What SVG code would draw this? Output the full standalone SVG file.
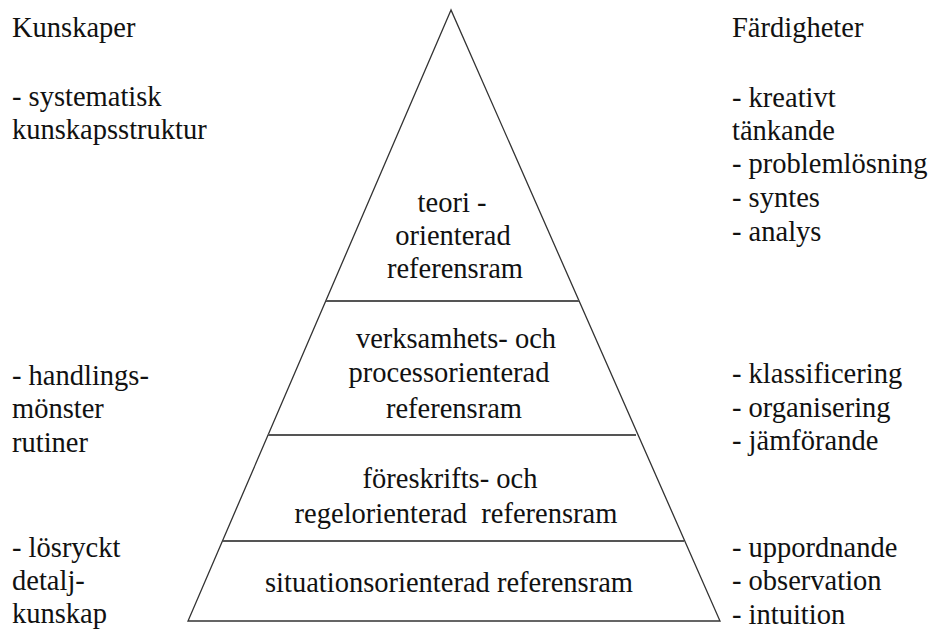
<svg xmlns="http://www.w3.org/2000/svg" width="931" height="632" viewBox="0 0 931 632">
  <style>
    text { font-family: "Liberation Serif", "DejaVu Serif", serif; font-size: 28.5px; fill: #111; }
    .mid { text-anchor: middle; }
    .pre { white-space: pre; }
    .edge { stroke: #333; stroke-width: 1.3; fill: none; }
    .band { stroke: #555; stroke-width: 1.8; fill: none; }
  </style>
  <rect width="931" height="632" fill="#fff"/>

  <!-- pyramid outline and band dividers -->
  <g id="pyramid">
    <polygon class="edge" points="451,10 188,621 720,621"/>
    <line class="band" x1="326" y1="301" x2="579" y2="301"/>
    <line class="band" x1="268" y1="435" x2="636" y2="435"/>
    <line class="band" x1="223" y1="541" x2="684" y2="541"/>
  </g>

  <g id="connectors"></g>

  <!-- pyramid levels -->
  <g id="level-teori" font-family="Liberation Serif, serif">
    <text class="mid" x="452" y="212">teori -</text>
    <text class="mid" x="453" y="245">orienterad</text>
    <text class="mid" x="455" y="278">referensram</text>
  </g>
  <g id="level-verksamhet">
    <text class="mid" x="456" y="348">verksamhets- och</text>
    <text class="mid" x="449" y="382">processorienterad</text>
    <text class="mid" x="454" y="418">referensram</text>
  </g>
  <g id="level-foreskrift">
    <text class="mid" x="450" y="488">föreskrifts- och</text>
    <text class="mid pre" x="456" y="523" xml:space="preserve">regelorienterad  referensram</text>
  </g>
  <g id="level-situation">
    <text class="mid" x="449" y="592">situationsorienterad referensram</text>
  </g>

  <!-- left column: knowledge -->
  <g id="kunskaper">
    <text x="12" y="37">Kunskaper</text>
    <text x="12" y="106">- systematisk</text>
    <text x="12" y="139">kunskapsstruktur</text>
    <text x="12" y="385">- handlings-</text>
    <text x="12" y="418">mönster</text>
    <text x="12" y="452">rutiner</text>
    <text x="12" y="557">- lösryckt</text>
    <text x="12" y="590">detalj-</text>
    <text x="12" y="623">kunskap</text>
  </g>

  <!-- right column: skills -->
  <g id="fardigheter">
    <text x="732" y="37">Färdigheter</text>
    <text x="732" y="107">- kreativt</text>
    <text x="732" y="140">tänkande</text>
    <text x="732" y="173">- problemlösning</text>
    <text x="732" y="207">- syntes</text>
    <text x="732" y="241">- analys</text>
    <text x="732" y="383">- klassificering</text>
    <text x="732" y="417">- organisering</text>
    <text x="732" y="450">- jämförande</text>
    <text x="732" y="557">- uppordnande</text>
    <text x="732" y="590">- observation</text>
    <text x="732" y="624">- intuition</text>
  </g>
</svg>
